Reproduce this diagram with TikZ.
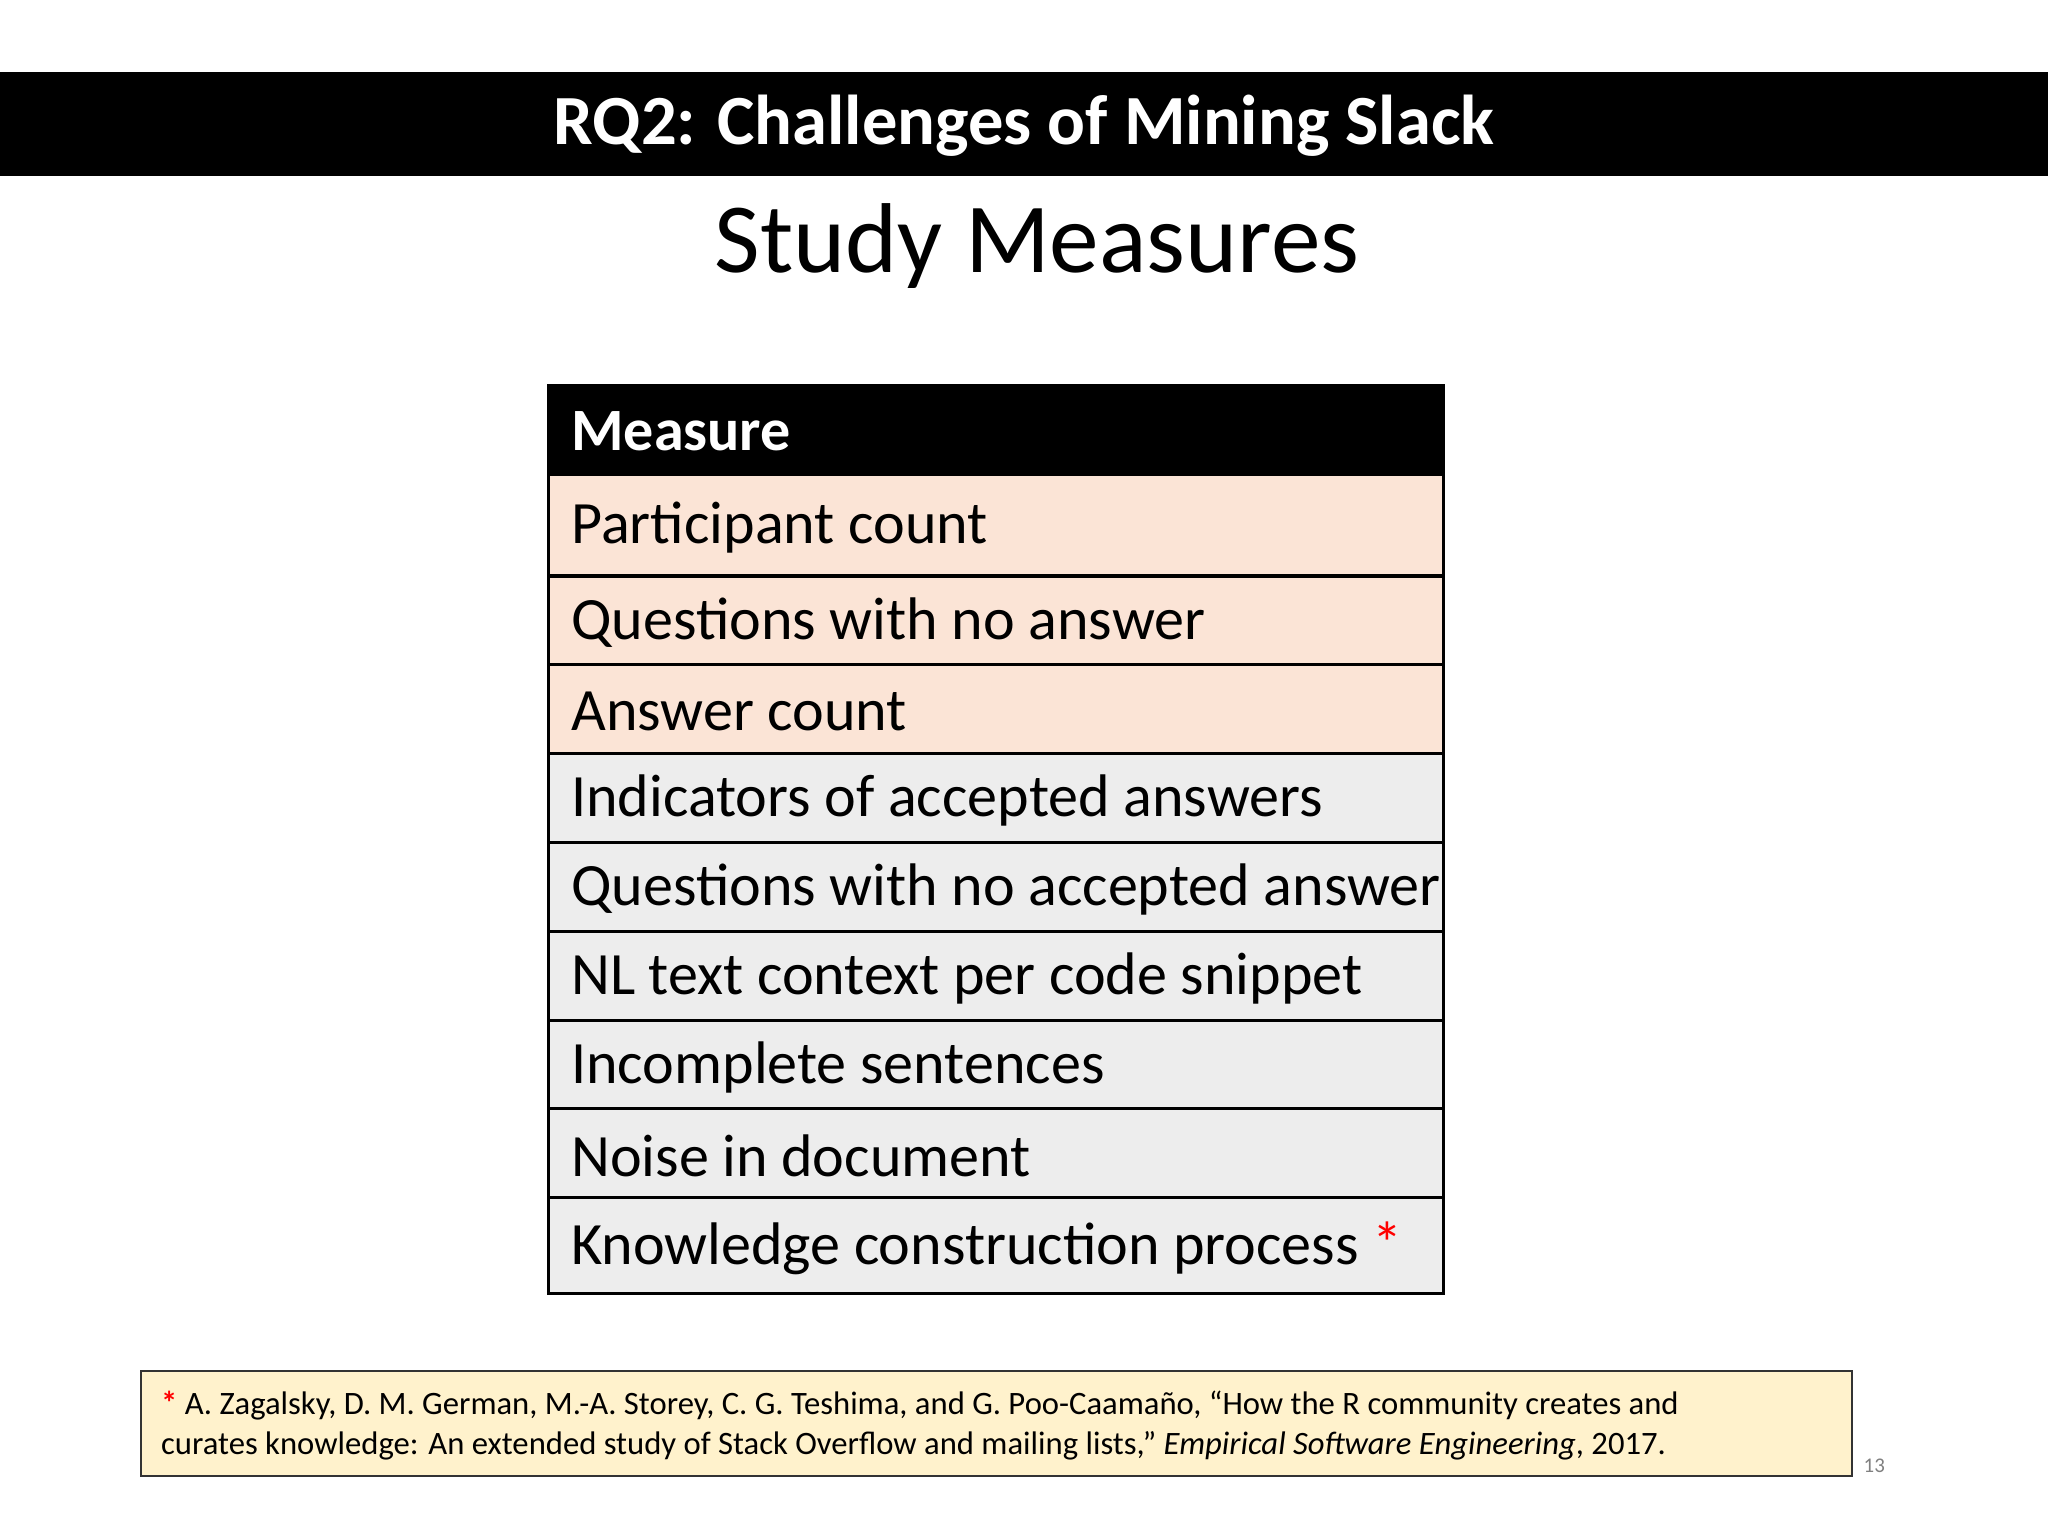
\documentclass[tikz,border=0pt]{standalone}
\usepackage{fontspec}
\setmainfont{Carlito}
\definecolor{peach}{HTML}{FBE4D6}
\definecolor{lgray}{HTML}{EDEDED}
\definecolor{note}{HTML}{FFF2CC}
\begin{document}
\begin{tikzpicture}[x=0.5pt,y=-0.5pt,
  cell/.style={draw=black,line width=1.2pt},
  rowtext/.style={anchor=west,font=\fontsize{23}{27}\selectfont,inner sep=0pt}]
\useasboundingbox (0,0) rectangle (1568,1176);
\fill[white] (0,0) rectangle (1568,1176);
\fill[black] (0,55) rectangle (1568,135);
\node[text=white,font=\bfseries\fontsize{27}{32}\selectfont] (title) at (784,96) {RQ2: Challenges of Mining Slack};
\node[font=\fontsize{38}{44}\selectfont] (sub) at (794,188) {Study Measures};
\fill[black] (420,295) rectangle (1105,363);
\node[rowtext,text=white,font=\bfseries\fontsize{23}{27}\selectfont] (h) at (437,330) {Measure};
\foreach \a/\b/\c/\t [count=\i] in {363/441/peach/Participant count,441/509/peach/Questions with no answer,509/577/peach/Answer count,577/645/lgray/Indicators of accepted answers,645/713/lgray/Questions with no accepted answer,713/781/lgray/NL text context per code snippet,781/849/lgray/Incomplete sentences,849/917/lgray/Noise in document,917/990/lgray/{Knowledge construction process \textcolor{red}{*}}}{
  \draw[cell,fill=\c] (420,\a) rectangle (1105,\b);
  \node[rowtext] (r\i) at (437,{(\a+\b)/2+2}) {\t};
}
\draw[cell] (420,295) rectangle (1105,990);
\draw[fill=note,draw=black!80,line width=0.8pt] (108,1050) rectangle (1418,1130);
\node[anchor=west,inner sep=0pt,font=\fontsize{12.5}{16}\selectfont] (f1) at (123,1076) {\textcolor{red}{\textbf{*}} A. Zagalsky, D. M. German, M.-A. Storey, C. G. Teshima, and G. Poo-Caamaño, “How the R community creates and};
\node[anchor=west,inner sep=0pt,font=\fontsize{12.5}{16}\selectfont] (f2) at (123,1107) {curates knowledge: An extended study of Stack Overflow and mailing lists,” \textit{Empirical Software Engineering}, 2017.};
\node[text=gray,font=\fontsize{8}{10}\selectfont] (pg) at (1435,1122) {13};
\end{tikzpicture}
\end{document}
